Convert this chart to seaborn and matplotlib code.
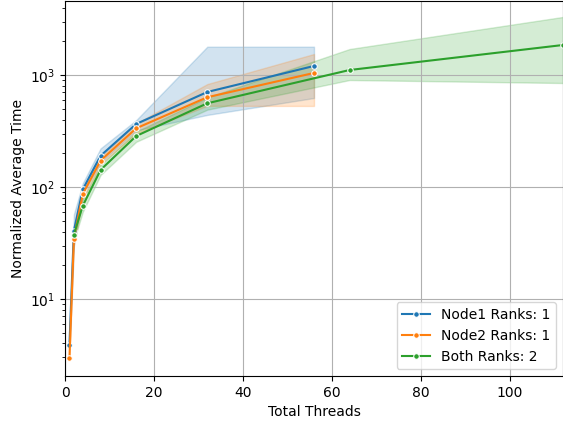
import pandas as pd
import matplotlib
matplotlib.use("Agg")
import matplotlib.pyplot as plt
import seaborn as sns

# thread counts
threads_node = [1, 2, 4, 8, 16, 32, 56]
threads_both = [2, 4, 8, 16, 32, 64, 112]

# three runs per point: low / middle / high
node1_lo = [3.6, 30, 85, 165, 320, 440, 623]
node1_mid = [3.9, 40.7, 95, 190, 365, 705, 1204]
node1_hi = [4.6, 57, 108, 221, 395, 1790, 1790]

node2_lo = [2.92, 30, 78, 160, 300, 530, 529]
node2_mid = [2.97, 34.5, 86.6, 172, 334, 633, 1043]
node2_hi = [3.05, 40, 95, 185, 370, 830, 1540]

both_lo = [33, 60, 128, 253, 490, 902, 848]
both_mid = [37.5, 68, 142, 285, 559, 1108, 1853]
both_hi = [42, 78, 157, 312, 630, 1706, 3300]

labels = ["Node1 Ranks: 1", "Node2 Ranks: 1", "Both Ranks: 2"]

rows = []
for label, xs, runs in [
    (labels[0], threads_node, [node1_lo, node1_mid, node1_hi]),
    (labels[1], threads_node, [node2_lo, node2_mid, node2_hi]),
    (labels[2], threads_both, [both_lo, both_mid, both_hi]),
]:
    for run in runs:
        for x, y in zip(xs, run):
            rows.append([label, x, y])
df = pd.DataFrame(rows, columns=["config", "Total Threads", "Normalized Average Time"])

fig = plt.figure(figsize=(5.63, 4.23), dpi=100)
ax = fig.add_axes([65 / 563, 47 / 423, 1 - 65 / 563, 375 / 423])

sns.lineplot(data=df, x="Total Threads", y="Normalized Average Time",
             hue="config", hue_order=labels, estimator="median",
             errorbar=("pi", 100), marker="o", markersize=4, ax=ax)

ax.set_yscale("log")
ax.set_xlim(0, 112)
ax.set_ylim(2.05, 4580)
ax.grid(True, which="major", color="#b0b0b0", linewidth=0.8)
ax.legend(loc="lower right", title=None)

fig.savefig("out.png", dpi=100)
